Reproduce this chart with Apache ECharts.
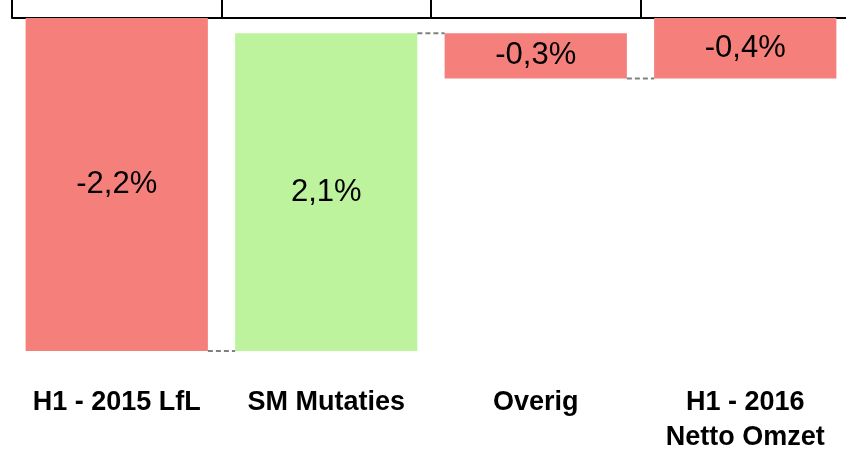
<!DOCTYPE html>
<html>
<head>
<meta charset="utf-8">
<script src="https://cdn.jsdelivr.net/npm/echarts@6/dist/echarts.min.js"></script>
<style>
  html, body { margin: 0; padding: 0; background: #fff; }
  #chart { width: 846px; height: 451px; }
</style>
</head>
<body>
<div id="chart"></div>
<script>
// waterfall: step values in %, last one is the total
var categories = ['H1 - 2015 LfL', 'SM Mutaties', 'Overig', 'H1 - 2016\nNetto Omzet'];
var deltas = [-2.2, 2.1, -0.3, -0.4];
var isTotal = [false, false, false, true];

var RED = '#F5807B';
var GREEN = '#BDF39D';

// build the invisible base + visible part (everything lies below zero)
var base = [], part = [], ends = [];
var run = 0;
deltas.forEach(function(d, i) {
  var start = isTotal[i] ? 0 : run;
  var end = isTotal[i] ? d : run + d;
  base.push(Math.max(start, end));
  part.push(-Math.abs(end - start));
  ends.push(end);
  if (!isTotal[i]) run = end;
});

// connector levels between bar i and i+1
var links = [];
for (var i = 0; i < deltas.length - 1; i++) {
  links.push([i, ends[i]]);
}

var myChart = echarts.init(document.getElementById('chart'));
var option = {
  animation: false,
  grid: { left: 12, top: 18, width: 838, bottom: 100, outerBoundsMode: 'none', containLabel: false },
  xAxis: [{
    type: 'category',
    data: categories,
    position: 'bottom',
    axisLine: { show: false, onZero: false },
    axisTick: { show: false },
    axisLabel: {
      margin: 34,
      interval: 0,
      fontFamily: 'Liberation Sans',
      fontWeight: 'bold',
      fontSize: 27,
      lineHeight: 35,
      color: '#000'
    }
  }, {
    type: 'category',
    data: categories,
    position: 'top',
    axisLine: { show: true, onZero: false, lineStyle: { color: '#000', width: 2 } },
    axisTick: { show: true, length: 18, lineStyle: { color: '#000', width: 2 } },
    axisLabel: { show: false }
  }],
  yAxis: { type: 'value', min: -2.2, max: 0, show: false, splitLine: { show: false } },
  series: [{
    type: 'bar',
    stack: 'wf',
    data: base,
    barWidth: '87%',
    itemStyle: { color: 'transparent' },
    silent: true
  }, {
    type: 'bar',
    stack: 'wf',
    barWidth: '87%',
    data: part.map(function(v, i) {
      return { value: v, itemStyle: { color: deltas[i] > 0 ? GREEN : RED } };
    }),
    label: {
      show: true,
      position: 'inside',
      fontFamily: 'Liberation Sans',
      fontSize: 31,
      color: '#000',
      formatter: function(p) {
        return deltas[p.dataIndex].toFixed(1).replace('.', ',') + '%';
      }
    }
  }, {
    type: 'custom',
    data: links,
    z: 3,
    renderItem: function(params, api) {
      var p0 = api.coord([api.value(0), api.value(1)]);
      var p1 = api.coord([api.value(0) + 1, api.value(1)]);
      var half = api.size([1, 0])[0] * 0.87 / 2;
      return {
        type: 'line',
        shape: { x1: p0[0] + half, y1: p0[1], x2: p1[0] - half, y2: p1[1] },
        style: { stroke: '#808080', lineWidth: 2, lineDash: [5, 3] }
      };
    }
  }]
};
myChart.setOption(option);
</script>
</body>
</html>
